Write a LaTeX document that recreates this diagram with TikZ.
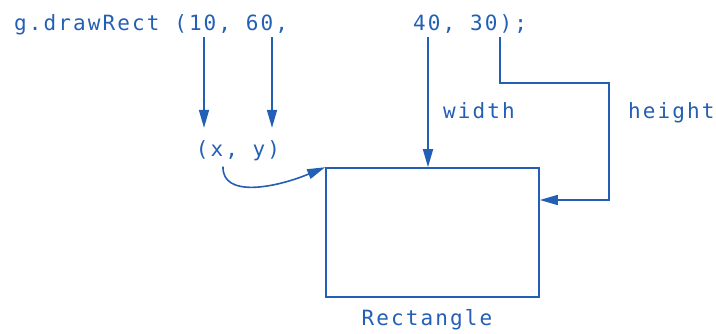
\documentclass[tikz,border=0pt]{standalone}
\usepackage{fontspec}
\usepackage{tikz}
\usetikzlibrary{arrows.meta,positioning}
\newfontfamily\codefont[LetterSpace=10]{DejaVu Sans Mono}
\newcommand{\codetext}{\codefont\fontsize{21pt}{25pt}\selectfont}
\definecolor{ink}{RGB}{35,95,180}

\begin{document}
\begin{tikzpicture}[
    x=1pt, y=-1pt,
    code/.style={
        font=\codetext,
        text=ink,
        inner sep=0pt,
        anchor=base west
    },
    frame/.style={
        draw=ink,
        line width=1.6pt,
        inner sep=0pt,
        minimum width=213pt,
        minimum height=129pt
    },
    arrow/.style={-{Triangle[length=18pt,width=10pt]}, line width=1.6pt, draw=ink}
]
\useasboundingbox (0,0) rectangle (716,333);

\node[code] (call) at (14,30) {g.drawRect (10, 60,};
\node[code] (size) at (413,30) {40, 30);};
\node[code, anchor=base] (xy) at (238,156) {(x, y)};
\node[code] (wlbl) at (443,118) {width};
\node[code] (hlbl) at (628,118) {height};

\node[frame] (rect) at (432.5,232.5) {};
\node[code, anchor=base] (rlbl) at (427,325) {Rectangle};

% where the arrows leave the call
\coordinate (px) at (204,37);
\coordinate (py) at (272,37);
\coordinate (pw) at (428,37);
\coordinate (ph) at (500,37);
\coordinate (hbend) at (609,83);
\coordinate (hturn) at (609,200);

\draw[arrow] (px) -- ([yshift=12pt]px |- xy.north);
\draw[arrow] (py) -- ([yshift=12pt]py |- xy.north);
\draw[arrow] (pw) -- (pw |- rect.north);
\draw[arrow] (ph) |- (hbend) -- (hturn) -- (hturn -| rect.east);

\draw[arrow]
    ([shift={(-15,6)}]xy.south) .. controls (222,198) and (275,188) ..
    (rect.north west);

\end{tikzpicture}
\end{document}
